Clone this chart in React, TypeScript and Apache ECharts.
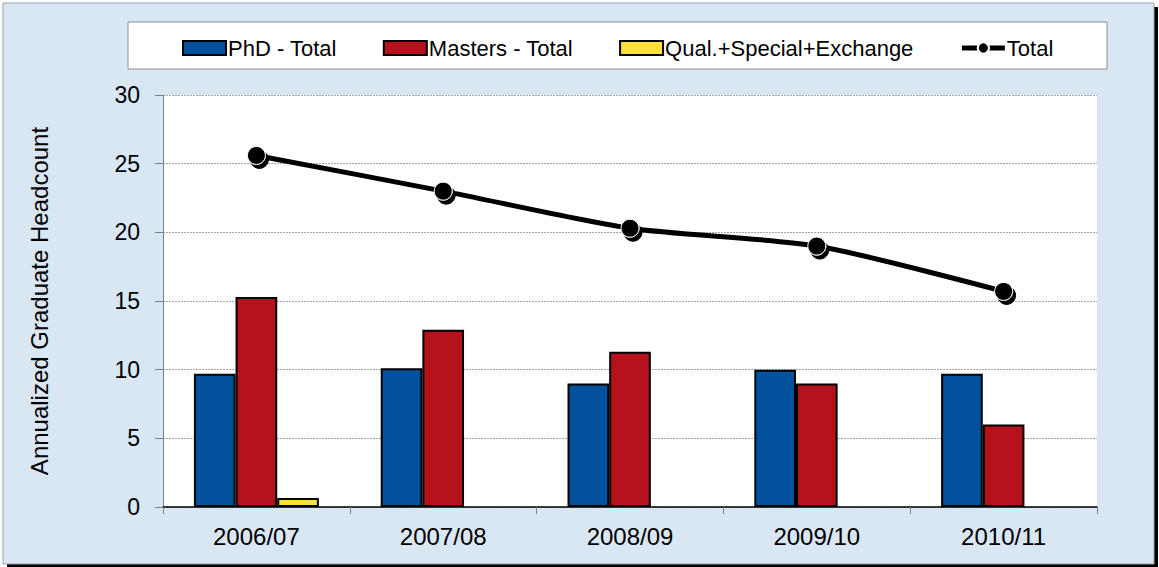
import React, { useEffect, useRef } from "react";
import * as echarts from "echarts";

const categories = ["2006/07", "2007/08", "2008/09", "2009/10", "2010/11"];
const phdTotal = [9.7, 10.1, 9.0, 10.0, 9.7];
const mastersTotal = [15.3, 12.9, 11.3, 9.0, 6.0];
const qualSpecialExchange = [0.65, null, null, null, null];
const total = [25.6, 23.0, 20.3, 19.0, 15.7];
const yTicks = { min: 0, max: 30, interval: 5 };

const FONT = "'Liberation Sans', Arial, sans-serif";

export default function App() {
  const ref = useRef<HTMLDivElement>(null);
  useEffect(() => {
    document.body.style.margin = "0";
    const chart = echarts.init(ref.current!, null, { renderer: "svg" });
    chart.setOption({
      animation: false,
      backgroundColor: "transparent",
      textStyle: { fontFamily: FONT },
      graphic: [
        {
          type: "rect",
          z: -10,
          shape: { x: 7, y: 7, width: 1151, height: 561 },
          style: { fill: "#000000" },
          silent: true,
        },
        {
          type: "rect",
          z: -9,
          shape: { x: 3, y: 3, width: 1151, height: 561 },
          style: { fill: "#d9e7f5", stroke: "#9aa3ad", lineWidth: 1 },
          silent: true,
        },
        {
          type: "rect",
          z: -8,
          shape: { x: 128, y: 22, width: 979, height: 47 },
          style: { fill: "#ffffff", stroke: "#8c8c8c", lineWidth: 1 },
          silent: true,
        },
      ],
      grid: {
        left: 163,
        right: 62,
        top: 95,
        bottom: 60,
        show: true,
        backgroundColor: "#ffffff",
        borderWidth: 0,
        containLabel: false,
      },
      legend: {
        left: 177,
        top: 32,
        itemWidth: 43,
        itemHeight: 14,
        itemGap: 46,
        textStyle: { fontSize: 22, color: "#000", fontFamily: FONT, padding: [0, 0, 0, -3] },
        data: [
          { name: "PhD - Total", icon: "rect", itemStyle: { borderColor: "#000", borderWidth: 2 } },
          { name: "Masters - Total", icon: "rect", itemStyle: { borderColor: "#000", borderWidth: 2 } },
          { name: "Qual.+Special+Exchange", icon: "rect", itemStyle: { borderColor: "#000", borderWidth: 2 } },
          { name: "Total", lineStyle: { width: 5, color: "#000" } },
        ],
      },
      xAxis: {
        type: "category",
        data: categories,
        axisLine: { show: true, lineStyle: { color: "#000", width: 1.5 } },
        axisTick: { show: true, alignWithLabel: false, length: 7, lineStyle: { color: "#808080" } },
        axisLabel: { fontSize: 24, color: "#000", margin: 17, fontFamily: FONT },
      },
      yAxis: {
        type: "value",
        min: yTicks.min,
        max: yTicks.max,
        interval: yTicks.interval,
        name: "Annualized Graduate Headcount",
        nameLocation: "middle",
        nameGap: 112,
        nameTextStyle: { fontSize: 24, color: "#000", fontFamily: FONT },
        axisLine: { show: true, lineStyle: { color: "#808080", width: 1 } },
        axisTick: { show: true, length: 8, lineStyle: { color: "#808080" } },
        axisLabel: { fontSize: 23, color: "#000", margin: 23, fontFamily: FONT },
        splitLine: { show: true, lineStyle: { color: "#a6a6a6", type: [2, 1], width: 1 } },
      },
      series: [
        {
          name: "PhD - Total",
          type: "bar",
          data: phdTotal,
          barWidth: "22.3%",
          barGap: "0%",
          itemStyle: { color: "#02519c", borderColor: "#000", borderWidth: 2 },
        },
        {
          name: "Masters - Total",
          type: "bar",
          data: mastersTotal,
          barWidth: "22.3%",
          barGap: "0%",
          itemStyle: { color: "#b5121b", borderColor: "#000", borderWidth: 2 },
        },
        {
          name: "Qual.+Special+Exchange",
          type: "bar",
          data: qualSpecialExchange,
          barWidth: "22.3%",
          barGap: "0%",
          itemStyle: { color: "#fde03a", borderColor: "#000", borderWidth: 2 },
        },
        {
          name: "Total",
          type: "line",
          data: total,
          smooth: 0.25,
          symbol: "circle",
          symbolSize: 18,
          z: 5,
          lineStyle: { color: "#000", width: 5 },
          itemStyle: {
            color: "#000",
            borderColor: "#ffffff",
            borderWidth: 1,
            shadowColor: "rgba(0,0,0,1)",
            shadowOffsetX: 3,
            shadowOffsetY: 4,
            shadowBlur: 0,
          },
        },
      ],
    });
    return () => chart.dispose();
  }, []);
  return (
    <div
      ref={ref}
      style={{ position: "absolute", left: 0, top: 0, width: 1159, height: 567 }}
    />
  );
}
